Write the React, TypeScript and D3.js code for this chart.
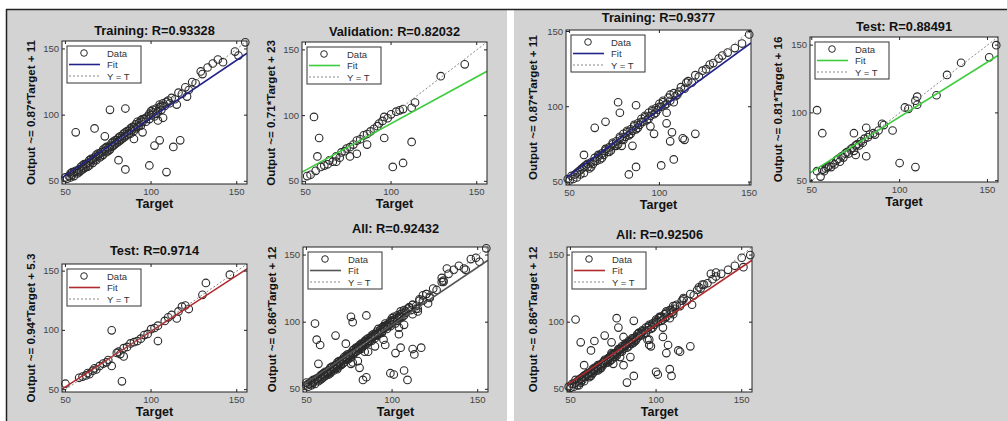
import * as d3 from 'd3';
import React from 'react';

type Pt = [number, number];

// ---- left figure: [target, output] ----
const trainL: Pt[] = [
  [50, 53], [51, 52], [52, 54], [53, 53], [53, 56], [54, 55], [55, 54], [55, 57], [56, 58], [57, 56],
  [58, 59], [58, 57], [59, 61], [60, 59], [60, 62], [61, 60], [62, 63], [62, 61], [63, 64], [64, 62],
  [64, 66], [65, 65], [66, 67], [66, 64], [67, 68], [68, 66], [68, 70], [69, 69], [70, 71], [70, 68],
  [71, 72], [72, 70], [72, 74], [73, 73], [74, 72], [74, 76], [75, 75], [76, 77], [76, 74], [77, 79],
  [78, 77], [78, 80], [79, 78], [80, 81], [80, 79], [81, 83], [82, 81], [83, 84], [83, 82], [84, 86],
  [85, 84], [85, 87], [86, 85], [87, 88], [88, 86], [88, 90], [89, 89], [90, 91], [90, 88], [91, 93],
  [92, 91], [93, 94], [94, 92], [94, 96], [95, 95], [96, 97], [97, 95], [98, 99], [99, 101], [100, 100],
  [100, 103], [101, 102], [102, 99], [103, 105], [104, 103], [105, 106], [106, 104], [107, 109], [108, 107], [110, 111],
  [111, 109], [112, 113], [114, 112], [116, 117], [118, 116], [120, 121], [122, 119], [124, 125], [126, 124], [129, 133],
  [130, 131], [133, 136], [136, 139], [139, 142], [142, 140], [149, 148], [151, 145], [155, 155],
  [54, 57], [57, 58], [59, 58], [61, 63], [63, 61], [65, 67], [67, 66], [69, 71], [71, 69], [73, 75],
  [75, 73], [77, 76], [79, 81], [81, 80], [82, 84], [84, 83], [86, 88], [87, 86], [89, 91], [91, 90],
  [93, 92], [95, 97], [97, 98], [99, 97], [101, 104], [103, 101], [105, 108], [106, 107], [109, 110], [92, 95],
  [56, 87], [67, 90], [76, 104], [85, 105], [73, 84], [81, 66], [85, 59], [99, 62], [109, 57], [102, 77],
  [105, 81], [113, 76], [117, 81], [95, 87], [90, 82], [104, 96], [107, 98], [121, 114], [115, 108],
];

const valL: Pt[] = [
  [51, 54], [53, 55], [55, 99], [56, 58], [57, 69], [58, 83], [59, 61], [61, 62], [63, 63], [64, 66],
  [66, 65], [68, 65], [68, 69], [70, 68], [71, 72], [73, 73], [74, 75], [76, 69], [76, 76], [78, 78],
  [80, 71], [80, 81], [82, 82], [84, 85], [86, 78], [86, 86], [88, 88], [90, 90], [92, 92], [93, 94],
  [95, 96], [96, 83], [96, 99], [98, 98], [100, 101], [101, 61], [103, 103], [105, 104], [107, 64], [107, 105],
  [112, 80], [112, 106], [114, 110], [129, 130], [143, 139],
];

const testL: Pt[] = [
  [50, 55], [58, 60], [60, 61], [62, 62], [63, 64], [64, 63], [66, 66], [67, 68], [68, 67], [70, 70],
  [72, 72], [74, 73], [75, 75], [77, 70], [77, 100], [80, 81], [81, 82], [82, 80], [83, 57], [84, 78],
  [84, 85], [86, 86], [88, 89], [90, 90], [92, 91], [94, 93], [96, 96], [98, 97], [100, 101], [102, 102],
  [104, 91], [104, 104], [108, 108], [110, 111], [112, 113], [115, 110], [116, 116], [118, 120], [120, 121], [122, 118],
  [130, 130], [132, 140], [146, 147],
];

// ---- right figure ----
const trainR: Pt[] = [
  [49, 52], [50, 51], [51, 54], [52, 52], [53, 55], [54, 53], [55, 57], [56, 55], [57, 59], [58, 56],
  [59, 61], [60, 60], [61, 59], [62, 63], [63, 62], [64, 66], [65, 64], [66, 67], [67, 65], [68, 69],
  [69, 68], [70, 71], [71, 70], [72, 73], [73, 71], [74, 75], [75, 74], [76, 77], [77, 75], [78, 79],
  [79, 78], [80, 82], [81, 80], [82, 83], [83, 81], [84, 85], [85, 84], [86, 87], [87, 85], [88, 89],
  [89, 88], [90, 92], [91, 90], [92, 93], [93, 91], [94, 96], [95, 94], [96, 97], [97, 95], [98, 99],
  [99, 98], [100, 102], [101, 100], [102, 103], [103, 101], [105, 106], [106, 104], [108, 109], [110, 108], [112, 113],
  [114, 112], [116, 117], [118, 116], [120, 121], [122, 120], [124, 124], [126, 125], [128, 128], [130, 129], [133, 132],
  [135, 134], [138, 136], [142, 139], [146, 142], [150, 148],
  [54, 56], [56, 58], [58, 60], [60, 62], [62, 60], [64, 64], [66, 68], [68, 66], [70, 72], [72, 70],
  [74, 76], [76, 74], [78, 80], [80, 78], [82, 84], [84, 82], [86, 88], [88, 86], [90, 90], [92, 94],
  [94, 92], [96, 98], [98, 96], [100, 100], [102, 104], [104, 102], [106, 108], [109, 107], [111, 110], [115, 116],
  [58, 68], [64, 86], [70, 90], [77, 103], [78, 96], [87, 101], [79, 74], [85, 74], [87, 60], [83, 55],
  [101, 61], [108, 65], [104, 89], [107, 83], [106, 77], [113, 79], [114, 78], [120, 82], [97, 82], [108, 103],
  [104, 96], [95, 87],
];

const valR: Pt[] = [
  [52, 54], [55, 56], [58, 60], [61, 62], [63, 65], [66, 67], [69, 69], [72, 72], [74, 77], [76, 76],
  [79, 80], [82, 83], [84, 86], [87, 88], [89, 91], [92, 93], [95, 96], [98, 99], [100, 101], [103, 104],
  [106, 107], [111, 112], [116, 118], [125, 126], [62, 79], [96, 83], [132, 136],
];

const testR: Pt[] = [
  [53, 102], [53, 57], [55, 53], [56, 85], [56, 58], [57, 57], [58, 59], [59, 60], [60, 61], [61, 60],
  [62, 63], [63, 62], [64, 65], [65, 66], [66, 64], [67, 68], [68, 67], [69, 70], [70, 71], [71, 70],
  [72, 73], [73, 74], [74, 72], [74, 85], [75, 69], [75, 76], [76, 77], [77, 76], [78, 79], [79, 78],
  [80, 81], [81, 68], [81, 89], [82, 82], [83, 84], [85, 85], [86, 84], [88, 87], [90, 92], [91, 91],
  [96, 87], [100, 63], [103, 104], [105, 103], [109, 60], [109, 109], [110, 106], [110, 112], [121, 113], [127, 128],
  [135, 137], [151, 141], [155, 150],
];

const allL = [...trainL, ...valL, ...testL];
const allR = [...trainR, ...valR, ...testR];

const titles = [
  'Training: R=0.93328', 'Validation: R=0.82032', 'Test: R=0.9714', 'All: R=0.92432',
  'Training: R=0.9377', 'Test: R=0.88491', 'All: R=0.92506',
];
const slopes = [0.87, 0.71, 0.94, 0.86, 0.87, 0.81, 0.86];
const intercepts = [11, 23, 5.3, 12, 11, 16, 12];
const sets = [trainL, valL, testL, allL, trainR, testR, allR];
const ticks = [50, 100, 150];
const legendLabels = ['Data', 'Fit', 'Y = T'];

// layout: plot box, axis limits, title / label positions, fit colour
const layout = [
  { x: 62, y: 41, w: 185, h: 143, dom: [48, 156], ty: 30, yl: 31, color: '#23238a' },
  { x: 302, y: 42, w: 185, h: 142, dom: [48, 156], ty: 31, yl: 271, color: '#3ccc3c' },
  { x: 62, y: 264, w: 185, h: 128, dom: [48, 156], ty: 250, yl: 31, color: '#b02a2e' },
  { x: 303, y: 247, w: 185, h: 145, dom: [48, 156], ty: 228, yl: 272, color: '#555555' },
  { x: 566, y: 30, w: 185, h: 155, dom: [48, 151], ty: 17, yl: 533, color: '#23238a' },
  { x: 810, y: 37, w: 188, h: 145, dom: [49, 156], ty: 26, yl: 778, color: '#3ccc3c' },
  { x: 567, y: 247, w: 185, h: 145, dom: [48, 156], ty: 234, yl: 533, color: '#b02a2e' },
];

const FONT = '"Liberation Sans", Arial, sans-serif';

function Plot({ i }: { i: number }) {
  const L = layout[i];
  const data = sets[i];
  const x = d3.scaleLinear().domain(L.dom).range([L.x, L.x + L.w]);
  const y = d3.scaleLinear().domain(L.dom).range([L.y + L.h, L.y]);
  const [d0, d1] = L.dom;
  const fit = (t: number) => slopes[i] * t + intercepts[i];
  const clipId = `clip${i}`;
  const lx = L.x + 5;
  const ly = L.y + 5;
  const shownTicks = ticks.filter((t) => t >= d0 && t <= d1);
  return (
    <g fontFamily={FONT}>
      <clipPath id={clipId}>
        <rect x={L.x} y={L.y} width={L.w} height={L.h} />
      </clipPath>
      <rect x={L.x} y={L.y} width={L.w} height={L.h} fill="#fff" />
      <g>
        {data.map((d, k) => (
          <circle key={k} cx={x(d[0])} cy={y(d[1])} r={3.8} fill="none" stroke="#2a2a2a" strokeWidth={1.1} />
        ))}
      </g>
      <g clipPath={`url(#${clipId})`}>
        <line x1={x(d0)} y1={y(fit(d0))} x2={x(d1)} y2={y(fit(d1))} stroke={L.color} strokeWidth={1.6} />
        <line x1={x(d0)} y1={y(d0)} x2={x(d1)} y2={y(d1)} stroke="#888" strokeWidth={1} strokeDasharray="2,2" />
      </g>
      <rect x={L.x} y={L.y} width={L.w} height={L.h} fill="none" stroke="#222" strokeWidth={1} />
      {shownTicks.map((t) => (
        <g key={t} fontSize={9.5} fill="#444">
          <line x1={x(t)} x2={x(t)} y1={L.y + L.h} y2={L.y + L.h - 3} stroke="#222" />
          <line x1={x(t)} x2={x(t)} y1={L.y} y2={L.y + 3} stroke="#222" />
          <line x1={L.x} x2={L.x + 3} y1={y(t)} y2={y(t)} stroke="#222" />
          <line x1={L.x + L.w} x2={L.x + L.w - 3} y1={y(t)} y2={y(t)} stroke="#222" />
          <text x={x(t)} y={L.y + L.h + 11} textAnchor="middle">{t}</text>
          <text x={L.x - 3} y={y(t) + 3} textAnchor="end">{t}</text>
        </g>
      ))}
      <text x={L.x + L.w / 2} y={L.ty + 4.5} textAnchor="middle" fontSize={12.8} fontWeight="bold" fill="#111">
        {titles[i]}
      </text>
      <text x={L.x + L.w / 2} y={L.y + L.h + 24} textAnchor="middle" fontSize={12.5} fontWeight="bold" fill="#111">
        Target
      </text>
      <text
        transform={`translate(${L.yl + 4},${L.y + L.h / 2}) rotate(-90)`}
        textAnchor="middle"
        fontSize={11.6}
        fontWeight="bold"
        fill="#111"
      >
        {`Output ~= ${slopes[i]}*Target + ${intercepts[i]}`}
      </text>
      <g>
        <rect x={lx} y={ly} width={74} height={37} fill="#fff" stroke="#333" strokeWidth={1} />
        {legendLabels.map((lab, k) => {
          const ry = ly + 7 + k * 11.5;
          return (
            <g key={lab}>
              {k === 0 && <circle cx={lx + 17} cy={ry} r={3.3} fill="none" stroke="#2a2a2a" strokeWidth={1} />}
              {k === 1 && <line x1={lx + 2} x2={lx + 33} y1={ry} y2={ry} stroke={L.color} strokeWidth={1.6} />}
              {k === 2 && (
                <line x1={lx + 2} x2={lx + 33} y1={ry} y2={ry} stroke="#888" strokeWidth={1} strokeDasharray="2,2" />
              )}
              <text x={lx + 40} y={ry + 3.5} fontSize={9.5} fill="#333">{lab}</text>
            </g>
          );
        })}
      </g>
    </g>
  );
}

export default function App() {
  const W = 1007;
  const H = 421;
  return (
    <svg width={W} height={H} style={{ position: 'absolute', left: 0, top: 0, display: 'block' }}>
      <rect x={0} y={0} width={W} height={H} fill="#fff" />
      <rect x={7} y={10} width={500} height={H - 10} fill="#d3d3d3" />
      <rect x={514} y={10} width={W - 514} height={H - 10} fill="#d3d3d3" />
      <line x1={6} x2={W} y1={9.5} y2={9.5} stroke="#222" strokeWidth={1.5} />
      <line x1={6.5} x2={6.5} y1={9} y2={H} stroke="#222" strokeWidth={1.5} />
      {layout.map((_, i) => (
        <Plot key={i} i={i} />
      ))}
    </svg>
  );
}
